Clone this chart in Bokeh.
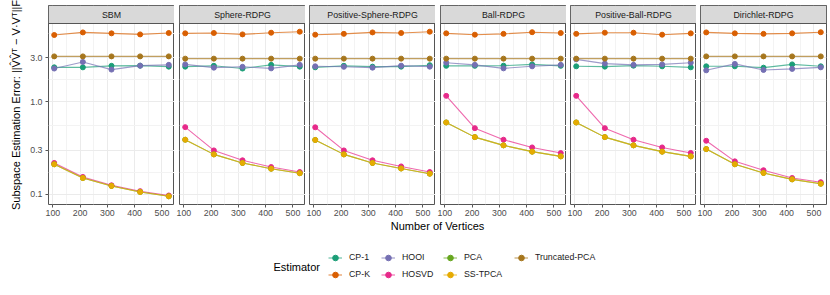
import math
from bokeh.plotting import figure
from bokeh.layouts import row, column
from bokeh.models import (Range1d, FixedTicker, Grid, BoxAnnotation, Label, Legend,
                          LegendItem, CustomJSTickFormatter)
from bokeh.embed import file_html
from bokeh.resources import INLINE

# ---------------- data ----------------
vertices = [105, 210, 315, 420, 525]
panels = ["SBM", "Sphere-RDPG", "Positive-Sphere-RDPG", "Ball-RDPG",
          "Positive-Ball-RDPG", "Dirichlet-RDPG"]
estimators = ["CP-1", "CP-K", "HOOI", "HOSVD", "PCA", "SS-TPCA", "Truncated-PCA"]
colors = ["#1B9E77", "#D95F02", "#7570B3", "#E7298A", "#66A61E", "#E6AB02", "#A6761D"]

cp1_err = [
    [2.36, 2.36, 2.45, 2.46, 2.40],
    [2.40, 2.45, 2.29, 2.51, 2.40],
    [2.36, 2.45, 2.40, 2.40, 2.49],
    [2.45, 2.45, 2.46, 2.54, 2.45],
    [2.42, 2.40, 2.46, 2.42, 2.36],
    [2.42, 2.42, 2.34, 2.54, 2.42],
]
cpk_err = [
    [5.28, 5.63, 5.50, 5.36, 5.55],
    [5.50, 5.55, 5.36, 5.59, 5.73],
    [5.32, 5.43, 5.63, 5.55, 5.73],
    [5.50, 5.32, 5.43, 5.66, 5.55],
    [5.43, 5.59, 5.59, 5.32, 5.50],
    [5.63, 5.50, 5.43, 5.50, 5.66],
]
hooi_err = [
    [2.29, 2.70, 2.23, 2.46, 2.51],
    [2.54, 2.34, 2.39, 2.30, 2.51],
    [2.42, 2.39, 2.34, 2.46, 2.40],
    [2.65, 2.51, 2.30, 2.42, 2.51],
    [2.88, 2.59, 2.51, 2.54, 2.65],
    [2.19, 2.57, 2.21, 2.27, 2.36],
]
hosvd_err = [
    [0.218, 0.154, 0.125, 0.108, 0.097],
    [0.532, 0.298, 0.233, 0.197, 0.174],
    [0.530, 0.298, 0.233, 0.200, 0.174],
    [1.16, 0.519, 0.389, 0.321, 0.279],
    [1.16, 0.519, 0.389, 0.321, 0.280],
    [0.379, 0.227, 0.182, 0.150, 0.135],
]
pca_err = [
    [0.211, 0.150, 0.123, 0.106, 0.095],
    [0.389, 0.270, 0.218, 0.189, 0.169],
    [0.387, 0.270, 0.218, 0.190, 0.167],
    [0.598, 0.415, 0.338, 0.289, 0.257],
    [0.598, 0.415, 0.338, 0.289, 0.257],
    [0.308, 0.211, 0.170, 0.145, 0.130],
]
sstpca_err = [
    [0.211, 0.150, 0.123, 0.106, 0.095],
    [0.389, 0.270, 0.218, 0.189, 0.169],
    [0.387, 0.270, 0.218, 0.190, 0.167],
    [0.598, 0.415, 0.338, 0.289, 0.257],
    [0.598, 0.415, 0.338, 0.289, 0.257],
    [0.308, 0.211, 0.170, 0.145, 0.130],
]
tpca_err = [
    [3.10, 3.10, 3.10, 3.10, 3.10],
    [2.93, 2.93, 2.93, 2.93, 2.93],
    [2.93, 2.93, 2.93, 2.93, 2.93],
    [2.93, 2.93, 2.93, 2.93, 2.93],
    [2.93, 2.93, 2.93, 2.93, 2.93],
    [3.10, 3.10, 3.10, 3.10, 3.10],
]
series = [cp1_err, cpk_err, hooi_err, hosvd_err, pca_err, sstpca_err, tpca_err]

x_ticks = [100, 200, 300, 400, 500]
y_ticks = [0.1, 0.3, 1.0, 3.0]

# ---------------- layout constants ----------------
FONT = "Liberation Sans"
BORDER = "#555555"
FW = 126
STRIP_H = 18
PANEL_H = 181
TOP = 5
BOT = 16
left_borders = [48, 5, 4, 5, 4, 4]
Y_LO, Y_HI = 0.0775, 7.03
X_LO, X_HI = 84, 546
dec_px = PANEL_H / (math.log10(Y_HI) - math.log10(Y_LO))
Y_TOP = 10 ** (math.log10(Y_HI) + STRIP_H / dec_px)
x_minor = [(a + b) / 2 for a, b in zip(x_ticks[:-1], x_ticks[1:])]
y_minor = [math.sqrt(a * b) for a, b in zip(y_ticks[:-1], y_ticks[1:])] + [math.sqrt(y_ticks[-1] * 10)]

figs = []
for i, name in enumerate(panels):
    first = i == 0
    last = i == len(panels) - 1
    p = figure(frame_width=FW, frame_height=STRIP_H + PANEL_H,
               x_range=Range1d(X_LO, X_HI), y_range=Range1d(Y_LO, Y_TOP),
               y_axis_type="log", y_axis_location="left" if first else None,
               min_border_left=left_borders[i], min_border_right=4 if last else 0,
               min_border_top=TOP, min_border_bottom=BOT,
               output_backend="svg", toolbar_location=None)
    p.center = [c for c in p.center if not isinstance(c, Grid)]
    xt = FixedTicker(ticks=x_ticks, minor_ticks=x_minor)
    yt = FixedTicker(ticks=y_ticks, minor_ticks=y_minor)
    for dim, tk in ((0, xt), (1, yt)):
        g = Grid(dimension=dim, ticker=tk, grid_line_color="#EBEBEB", grid_line_width=1,
                 minor_grid_line_color="#F3F3F3", minor_grid_line_width=1)
        p.add_layout(g, "center")
    p.outline_line_color = BORDER
    p.outline_line_width = 1
    p.background_fill_color = "white"

    ax = p.xaxis[0]
    ax.ticker = xt
    ax.axis_line_color = None
    ax.major_tick_line_color = BORDER
    ax.major_tick_out = 3
    ax.major_tick_in = 0
    ax.minor_tick_line_color = None
    ax.major_label_standoff = 1
    ax.major_label_text_font = FONT
    ax.major_label_text_font_size = "8.8px"
    ax.major_label_text_color = "#4D4D4D"

    if first:
        ay = p.yaxis[0]
        ay.ticker = yt
        ay.formatter = CustomJSTickFormatter(code="return tick.toFixed(1);")
        ay.axis_line_color = None
        ay.major_tick_line_color = BORDER
        ay.major_tick_out = 3
        ay.major_tick_in = 0
        ay.minor_tick_line_color = None
        ay.major_label_standoff = 2
        ay.major_label_text_font = FONT
        ay.major_label_text_font_size = "8.8px"
        ay.major_label_text_color = "#4D4D4D"
        ay.axis_label = "Subspace Estimation Error: ||V\u0302V\u0302\u1d40 \u2212 V\u00b7V\u1d40||F"
        ay.axis_label_standoff = 5
        ay.axis_label_text_font = FONT
        ay.axis_label_text_font_size = "11px"
        ay.axis_label_text_font_style = "normal"
        ay.axis_label_text_color = "black"

    for vals, col in zip(series, colors):
        p.line(vertices, vals[i], line_color=col, line_width=1.1, line_alpha=0.7)
    for vals, col in zip(series, colors):
        p.scatter(vertices, vals[i], size=5, fill_color=col, line_color=col)

    p.add_layout(BoxAnnotation(bottom=Y_HI, fill_color="#D9D9D9", fill_alpha=1,
                               line_color=BORDER, line_width=1, line_alpha=1))
    p.add_layout(Label(x=(X_LO + X_HI) / 2, y=math.sqrt(Y_HI * Y_TOP), text=name,
                       text_align="center", text_baseline="middle", text_font=FONT,
                       text_font_size="8.8px", text_color="#1A1A1A"))
    figs.append(p)

# ---------------- bottom: x title + legend ----------------
W = 830
TOP_PAGE = TOP + STRIP_H + PANEL_H + BOT
LEG_H = 295 - TOP_PAGE
# x range placed left of zero so the legend proxy renderers fall outside the frame
leg = figure(width=W, height=LEG_H, x_range=Range1d(-W, 0), y_range=Range1d(0, LEG_H),
             x_axis_location=None, y_axis_location=None, min_border=0,
             output_backend="svg", toolbar_location=None)
leg.outline_line_color = None
leg.grid.visible = False

def fx(page_x):
    return page_x - W

def fy(page_y):
    return LEG_H - (page_y - TOP_PAGE)

leg.add_layout(Label(x=fx(437), y=fy(225.5), text="Number of Vertices", text_align="center",
                     text_baseline="middle", text_font=FONT, text_font_size="11px",
                     text_color="black"))
leg.add_layout(Label(x=fx(273), y=fy(266.2), text="Estimator", text_align="left",
                     text_baseline="middle", text_font=FONT, text_font_size="11px",
                     text_color="black"))

items = {}
for est, vals, col in zip(estimators, series, colors):
    lr = leg.line(vertices, vals[0], line_color=col, line_width=1.1, line_alpha=0.7)
    sr = leg.scatter(vertices, vals[0], size=5, fill_color=col, line_color=col)
    items[est] = LegendItem(label=est, renderers=[lr, sr])

ROW1, ROW2, RH = 257.3, 274.3, 17
groups = [(["CP-1", "CP-K"], 328), (["HOOI", "HOSVD"], 381),
          (["PCA", "SS-TPCA"], 443), (["Truncated-PCA"], 514)]
for names, gx in groups:
    last_row = ROW2 if len(names) == 2 else ROW1
    bottom = fy(last_row + RH / 2)
    lg = Legend(items=[items[n] for n in names], location=(gx, bottom),
                orientation="vertical", glyph_width=14, glyph_height=RH,
                label_height=RH, label_standoff=7, spacing=0, padding=0, margin=0,
                border_line_color=None, background_fill_alpha=0,
                label_text_font=FONT, label_text_font_size="8.8px",
                label_text_color="#1A1A1A")
    leg.add_layout(lg)

layout = column(row(*figs), leg)
open("out.html", "w").write(file_html(layout, INLINE))
